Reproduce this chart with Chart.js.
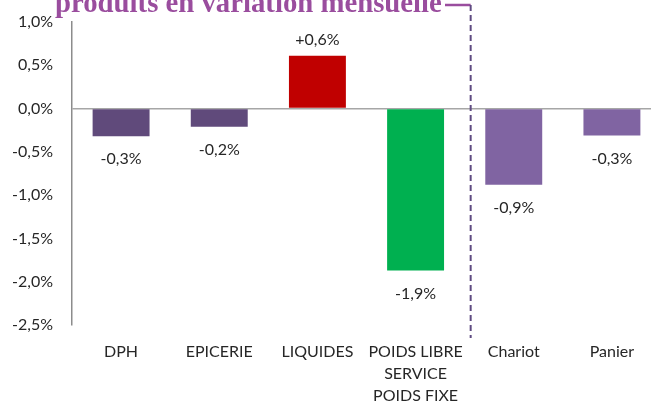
<!DOCTYPE html>
<html>
<head>
<meta charset="utf-8">
<script src="https://cdn.jsdelivr.net/npm/chart.js@4/dist/chart.umd.min.js"></script>
<style>
  html, body { margin: 0; padding: 0; background: #fff; overflow: hidden; }
  #wrap { width: 661px; height: 403px; }
</style>
</head>
<body>
<div id="wrap"><canvas id="chart1" width="661" height="403"></canvas></div>
<script>
const categories = [
    "DPH",
    "EPICERIE",
    "LIQUIDES",
    ["POIDS LIBRE", "SERVICE", "POIDS FIXE"],
    "Chariot",
    "Panier",
];
const values = [-0.32, -0.21, 0.61, -1.87, -0.88, -0.31];
const valueLabels = ["-0,3%", "-0,2%", "+0,6%", "-1,9%", "-0,9%", "-0,3%"];
const barColors = ["#604a7b", "#604a7b", "#c00000", "#00b050", "#8064a2", "#8064a2"];
const titleText = "produits en variation mensuelle";

Chart.defaults.font.family = "Lato, 'Open Sans', sans-serif";
Chart.defaults.color = "#262626";

// value labels under / over each bar
const barLabels = {
    id: "barLabels",
    afterDatasetsDraw(chart) {
        const c = chart.ctx;
        const meta = chart.getDatasetMeta(0);
        c.save();
        c.font = "16px Lato, 'Open Sans', sans-serif";
        c.fillStyle = "#262626";
        c.textAlign = "center";
        c.textBaseline = "middle";
        meta.data.forEach((bar, i) => {
            if (values[i] < 0) {
                c.fillText(valueLabels[i], bar.x, bar.y + 23);
            } else {
                c.fillText(valueLabels[i], bar.x, bar.y - 16);
            }
        });
        c.restore();
    }
};

// title (cut at top) + dashed separator
const decor = {
    id: "decor",
    afterDraw(chart) {
        const c = chart.ctx;
        const x = chart.scales.x;
        const sepX = (x.getPixelForValue(3) + x.getPixelForValue(4)) / 2 + 6;
        c.save();
        // title
        let size = 26;
        c.font = "bold " + size + "px 'Liberation Serif', 'DejaVu Serif', serif";
        const w = c.measureText(titleText).width;
        size = size * 387 / w;
        c.font = "bold " + size + "px 'Liberation Serif', 'DejaVu Serif', serif";
        c.fillStyle = "#9a4d9e";
        c.textBaseline = "alphabetic";
        c.textAlign = "left";
        c.fillText(titleText, 55, 12);
        // horizontal dash to the separator
        c.strokeStyle = "#9a4d9e";
        c.lineWidth = 2.5;
        c.beginPath();
        c.moveTo(445, 5);
        c.lineTo(sepX, 5);
        c.stroke();
        // dashed vertical line
        c.strokeStyle = "#5f4b82";
        c.lineWidth = 2;
        c.setLineDash([6, 4]);
        c.beginPath();
        c.moveTo(sepX, 5);
        c.lineTo(sepX, 338);
        c.stroke();
        c.restore();
    }
};

const config = {
    type: "bar",
    data: {
        labels: categories,
        datasets: [{
            data: values,
            backgroundColor: barColors,
            borderWidth: 0,
            barPercentage: 0.58,
            categoryPercentage: 1,
        }]
    },
    options: {
        responsive: false,
        animation: false,
        layout: {
            padding: { top: 22, right: 0, bottom: 0, left: 0 }
        },
        scales: {
            y: {
                min: -2.5,
                max: 1,
                afterFit(scale) {
                    scale.width = 72;
                    scale.paddingTop = 0;
                    scale.paddingBottom = 0;
                },
                ticks: {
                    stepSize: 0.5,
                    padding: 19,
                    font: { size: 16 },
                    color: "#262626",
                    callback: (v) => v.toFixed(1).replace(".", ",") + "%",
                },
                grid: {
                    drawTicks: false,
                    color: (ctx) => ctx.tick && ctx.tick.value === 0 ? "#a6a6a6" : "rgba(0,0,0,0)",
                    lineWidth: 1.5,
                },
                border: { display: true, color: "#8c8c8c", width: 1.5 },
            },
            x: {
                afterFit(scale) {
                    scale.height = 78;
                    scale.paddingLeft = 0;
                    scale.paddingRight = 0;
                },
                ticks: {
                    padding: 16,
                    maxRotation: 0,
                    autoSkip: false,
                    font: { size: 16, lineHeight: 1.375 },
                    color: "#262626",
                },
                grid: { display: false, drawTicks: false },
                border: { display: false },
            }
        },
        plugins: {
            legend: { display: false },
            tooltip: { enabled: false },
        }
    },
    plugins: [barLabels, decor]
};

const newChart = new Chart(document.getElementById("chart1").getContext("2d"), config);
</script>
</body>
</html>
